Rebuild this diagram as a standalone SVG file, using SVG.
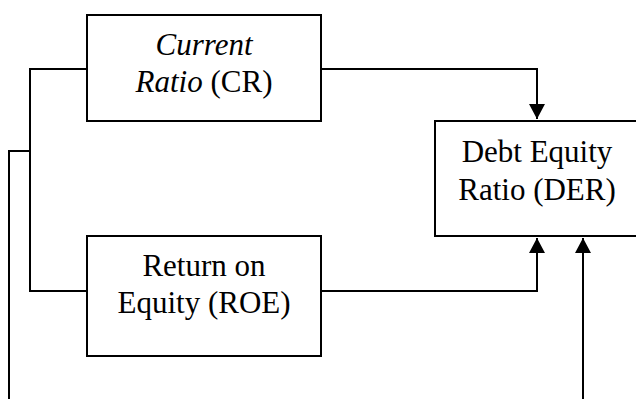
<svg xmlns="http://www.w3.org/2000/svg" width="636" height="399" viewBox="0 0 636 399">
<defs>
<marker id="ah" markerWidth="16" markerHeight="16" viewBox="0 0 16 16" refX="15" refY="8" orient="auto" markerUnits="userSpaceOnUse">
<path d="M0,0 L15,8 L0,16 Z" fill="#000"/>
</marker>
</defs>
<style>
.box{fill:#fff;stroke:#000;stroke-width:2}
.ln{fill:none;stroke:#000;stroke-width:2}
.t{font-family:"Liberation Serif","Times New Roman",serif;font-size:31px;fill:#000;text-anchor:middle}
</style>
<rect width="636" height="399" fill="#fff"/>
<g id="connectors">
<path class="ln" d="M321,69 H537 V119" marker-end="url(#ah)"/>
<path class="ln" d="M321,291 H537 V238" marker-end="url(#ah)"/>
<path class="ln" d="M583,399 V238" marker-end="url(#ah)"/>
<path class="ln" d="M87,69 H30 V291 H87"/>
<path class="ln" d="M30,151 H9 V399"/>
</g>
<g id="cr">
<rect class="box" x="87" y="15" width="234" height="106"/>
<text class="t" x="204" y="55" font-style="italic">Current</text>
<text class="t" x="204" y="92"><tspan font-style="italic">Ratio</tspan> (CR)</text>
</g>
<g id="roe">
<rect class="box" x="87" y="236" width="234" height="120"/>
<text class="t" x="204" y="276">Return on</text>
<text class="t" x="204" y="313">Equity (ROE)</text>
</g>
<g id="der">
<rect class="box" x="435" y="121" width="206" height="115"/>
<text class="t" x="537" y="162">Debt Equity</text>
<text class="t" x="537" y="200">Ratio (DER)</text>
</g>
</svg>
